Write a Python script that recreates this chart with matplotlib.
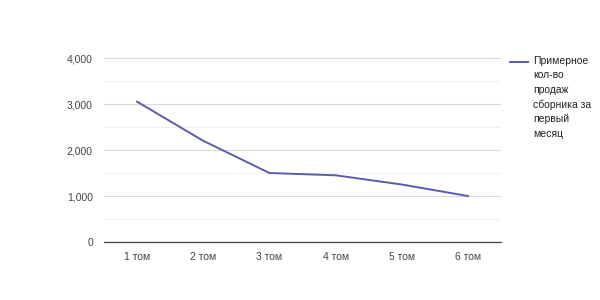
import matplotlib
matplotlib.use('Agg')
import matplotlib.pyplot as plt
from matplotlib.lines import Line2D
from matplotlib.ticker import MultipleLocator, FuncFormatter

categories = ['1 том', '2 том', '3 том', '4 том', '5 том', '6 том']
sales = [3050, 2200, 1500, 1450, 1250, 1000]
series_name = 'Примерное\nкол-во\nпродаж\nсборника за\nпервый\nмесяц'
line_color = '#5c5ca8'

plt.rcParams['font.family'] = ['Liberation Sans', 'DejaVu Sans']

fig = plt.figure(figsize=(6, 3), dpi=100)
ax = fig.add_axes([104 / 600, 1 - 242 / 300, 397 / 600, 184 / 300])

x = list(range(len(categories)))
ax.plot(x, sales, color=line_color, lw=1.4)

ax.set_xlim(-0.5, len(categories) - 0.5)
ax.set_ylim(0, 4000)
ax.yaxis.set_major_locator(MultipleLocator(1000))
ax.yaxis.set_minor_locator(MultipleLocator(500))
ax.yaxis.set_major_formatter(FuncFormatter(lambda v, p: '{:,.0f}'.format(v)))
ax.set_xticks(x)
ax.set_xticklabels(categories)

ax.grid(axis='y', which='major', color='#d9d9d9', lw=0.8)
ax.grid(axis='y', which='minor', color='#efefef', lw=0.8)
ax.set_axisbelow(True)
for s in ['top', 'right', 'left']:
    ax.spines[s].set_visible(False)
ax.spines['bottom'].set_color('#444444')
ax.spines['bottom'].set_linewidth(0.9)
ax.tick_params(which='both', length=0, labelsize=7.5, colors='#444444', pad=8)
ax.tick_params(axis='x', pad=7)

# legend drawn by hand so the key sits at the first text line
fig.add_artist(Line2D([510 / 600, 528 / 600], [1 - 62 / 300, 1 - 62 / 300],
                      transform=fig.transFigure, color=line_color, lw=1.4))
fig.text(533 / 600, 1 - 56 / 300, series_name, ha='left', va='top',
         fontsize=7.5, color='#222222', linespacing=1.55)

fig.savefig('out.png', dpi=100)
